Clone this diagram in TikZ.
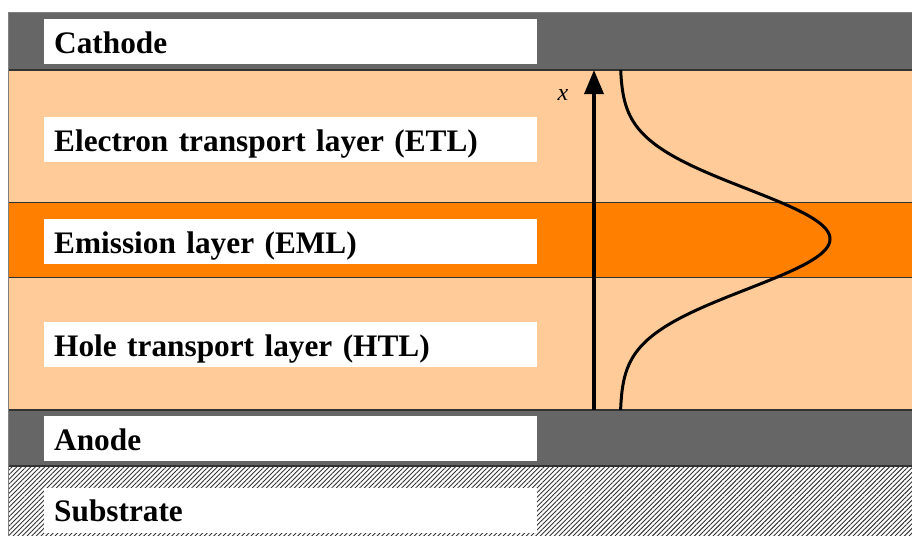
\documentclass[tikz,border=0pt]{standalone}
\usepackage{fontspec}
\setmainfont{Liberation Serif}
\usetikzlibrary{patterns.meta,arrows.meta}
\definecolor{metal}{HTML}{666666}
\definecolor{transport}{HTML}{FFCC99}
\definecolor{emission}{HTML}{FF8000}
\definecolor{edge}{HTML}{333333}
\tikzset{
  layer/.style={draw=edge, line width=1pt},
  tag/.style={fill=white, anchor=west, text height=34pt, text depth=11pt,
    text width=473pt, inner xsep=10pt, inner ysep=0pt, align=left,
    font=\fontsize{31.3}{36}\selectfont\bfseries},
  axis/.style={line width=3.5pt, -{Triangle[length=24pt,width=19pt]}},
  profile/.style={line width=3pt, black}
}
\begin{document}
\begin{tikzpicture}[x=1pt,y=-1pt]
  \useasboundingbox (0,0) rectangle (912,535);
  % stack of layers, top to bottom
  \fill[metal] (8,13) rectangle (913,70);
  \fill[transport] (8,70) rectangle (913,202);
  \fill[emission] (8,202) rectangle (913,277);
  \fill[transport] (8,277) rectangle (913,410);
  \fill[metal] (8,410) rectangle (913,466);
  \fill[white] (8,466) rectangle (913,536);
  \fill[pattern={Lines[angle=45,distance=3.3pt,line width=0.9pt]},pattern color=black!80]
    (8,466) rectangle (913,536);
  % layer boundaries
  \draw[layer, line width=2pt] (8,70) -- (913,70);
  \draw[layer] (8,202) -- (913,202);
  \draw[layer] (8,277) -- (913,277);
  \draw[layer, line width=1.5pt] (8,410) -- (913,410);
  \draw[layer, line width=2pt] (8,466) -- (913,466);
  \draw[gray, line width=1pt] (8,536) -- (8,13) -- (913,13);
  % layer names
  \node[tag] (cathode) at (44,41.5) {Cathode};
  \node[tag] (etl) at (44,139.5) {Electron transport layer (ETL)};
  \node[tag] (eml) at (44,241.5) {Emission layer (EML)};
  \node[tag] (htl) at (44,344.5) {Hole transport layer (HTL)};
  \node[tag] (anode) at (44,438.5) {Anode};
  \node[tag] (substrate) at (44,510) {Substrate};
  % position axis and emission profile
  \coordinate (base) at (594,410);
  \coordinate (top) at (594,70);
  \draw[axis] (base) -- (top);
  \node[font=\fontsize{24}{26}\selectfont\itshape] (xlab) at (563,95) {x};
  \draw[profile] plot[domain=70:410, samples=160, variable=\t, smooth]
    ({620+210*exp(-0.5*((\t-239)/50)^2)}, \t);
\end{tikzpicture}
\end{document}
